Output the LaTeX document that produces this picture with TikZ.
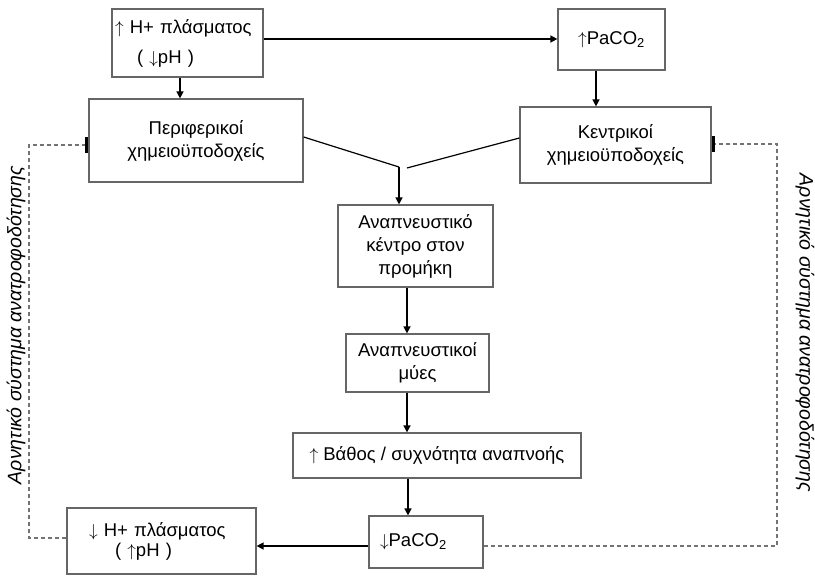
\documentclass[tikz,border=0pt]{standalone}
\usepackage{fontspec}
\setmainfont{Liberation Sans}
\usetikzlibrary{arrows.meta}

\newcommand{\up}{$\uparrow$}
\newcommand{\down}{$\downarrow$}

\tikzset{
  box/.style={draw=black!60, line width=1.2pt, align=center, inner sep=0pt,
    font=\fontsize{18.5}{23}\selectfont},
  flow/.style={-{Triangle[length=7pt,width=7pt]}, line width=1.4pt},
  feedback/.style={draw=black!55, line width=1.2pt, dash pattern=on 4pt off 3pt,
    -{Bar[width=16pt,line width=3pt,color=black]}},
  sidetext/.style={font=\fontsize{19.5}{20}\selectfont\itshape, inner sep=0pt}
}

\begin{document}
\begin{tikzpicture}[x=1pt,y=-1pt]
        \useasboundingbox (0,0) rectangle (815,576);

        %Plasma H+ rises
        \node [box, minimum width=151pt, minimum height=68pt, text width=145pt, align=left]
          (hup) at (187.5,43) {\up\ H+ πλάσματος\\[7pt]\hspace*{22pt}( \down pH )};
        \node [box, minimum width=107pt, minimum height=61pt]
          (coup) at (611.5,39.5) {\up PaCO\textsubscript{2}};
        %Chemoreceptors
        \node [box, minimum width=214pt, minimum height=83pt]
          (peri) at (196,140.5) {Περιφερικοί\\χημειοϋποδοχείς};
        \node [box, minimum width=191pt, minimum height=76pt]
          (kent) at (615.5,145) {Κεντρικοί\\χημειοϋποδοχείς};
        %Centre and muscles
        \node [box, minimum width=155pt, minimum height=82pt]
          (kentro) at (415.5,246) {Αναπνευστικό\\κέντρο στον\\προμήκη};
        \node [box, minimum width=143pt, minimum height=58pt]
          (myes) at (417.5,363) {Αναπνευστικοί\\μύες};
        \node [box, minimum width=288pt, minimum height=45pt]
          (vathos) at (437,455.5) {\up\ Βάθος / συχνότητα αναπνοής};
        %Result
        \node [box, minimum width=114pt, minimum height=52pt, text width=92pt, align=left]
          (codown) at (426,542) {\down PaCO\textsubscript{2}};
        \node [box, minimum width=189pt, minimum height=66pt, text width=145pt, align=left]
          (hdown) at (161.5,541) {\down\ H+ πλάσματος\\[-3pt]\hspace*{26pt}( \up pH )};

        %Arrows
        \draw [flow] (hup.east |- 0,39) -- (coup.west |- 0,39);
        \draw [flow] (hup.south -| 180,0) -- (peri.north -| 180,0);
        \draw [flow] (coup.south -| 596,0) -- (kent.north -| 596,0);
        \coordinate (mleft) at (399,167);
        \coordinate (mright) at (407,168);
        \draw [line width=1.2pt] (peri.east |- 0,137) -- (mleft);
        \draw [line width=1.2pt] (kent.west |- 0,138) -- (mright);
        \draw [flow] (mleft) -- (kentro.north -| mleft);
        \draw [flow] (kentro.south -| 407,0) -- (myes.north -| 407,0);
        \draw [flow] (myes.south -| 407,0) -- (vathos.north -| 407,0);
        \draw [flow] (vathos.south -| 408,0) -- (codown.north -| 408,0);
        \draw [flow] (codown.west |- 0,546) -- (hdown.east |- 0,546);

        %Feedback
        \draw [feedback] (hdown.west |- 0,538) -| (29,145) -- (peri.west |- 0,145);
        \draw [feedback] (codown.east |- 0,546) -| (777,144) -- (kent.east |- 0,144);
        \node [sidetext, rotate=90] (fbleft) at (16,325) {Αρνητικό σύστημα ανατροφοδότησης};
        \node [sidetext, rotate=-90] (fbright) at (805,333) {Αρνητικό σύστημα ανατροφοδότησης};
      \end{tikzpicture}
\end{document}
